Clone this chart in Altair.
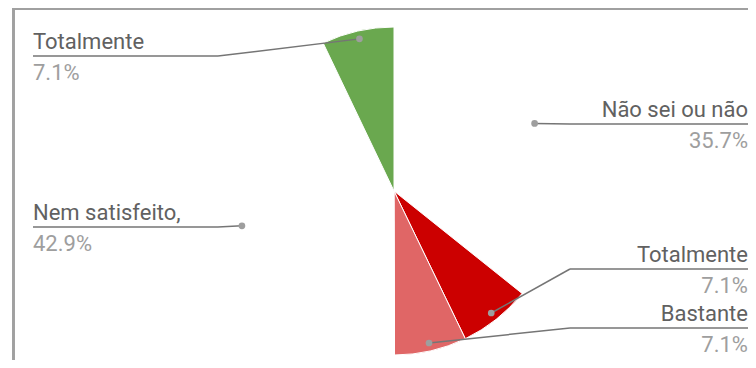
import altair as alt
import pandas as pd

# ---- data ----
keys = ["nao_sei", "tot_insat", "bastante", "nem", "tot_sat"]
labels = ["Não sei ou não", "Totalmente", "Bastante", "Nem satisfeito,", "Totalmente"]
values = [35.7, 7.1, 7.1, 42.9, 7.1]
slice_order = [1, 2, 3, 4, 5]
colors = ["#ffffff", "#cc0000", "#e06666", "#ffffff", "#6aa84f"]

# ---- layout (annotation placement, pixels in chart space) ----
label_line_y = [116, 261, 320, 219, 48]
CX, CY, R = 386, 183, 164
DOT_R, ELBOW = 156, 176
W, H = 740, 352
LEFT_X, RIGHT_X = 25, W
FONT = "Roboto"
FS = 22

df = pd.DataFrame({
    "key": keys,
    "label": labels,
    "value": values,
    "order": slice_order,
    "line_y": label_line_y,
})

base = (
    alt.Chart(df)
    .transform_window(cum="sum(value)", frame=[None, 0], sort=[{"field": "order"}])
    .transform_joinaggregate(total="sum(value)")
    .transform_calculate(
        mid="(datum.cum - datum.value / 2) / datum.total * 2 * PI",
    )
    .transform_calculate(
        side="sin(datum.mid) >= 0 ? 'right' : 'left'",
        dot_x=f"{CX} + {DOT_R} * sin(datum.mid)",
        dot_y=f"{CY} - {DOT_R} * cos(datum.mid)",
        pct=alt.expr.format(alt.datum.value, ".1f") + "%",
    )
    .transform_calculate(
        elbow_x=f"datum.side == 'right' ? {CX + ELBOW} : {CX - ELBOW}",
        end_x=f"datum.side == 'right' ? {RIGHT_X} : {LEFT_X}",
    )
)

pie = alt.Chart(df).mark_arc(radius=R, stroke="white", strokeWidth=1).encode(
    theta=alt.Theta("value:Q", stack=True),
    color=alt.Color("key:N", scale=alt.Scale(domain=keys, range=colors), legend=None),
    order=alt.Order("order:Q"),
    x=alt.value(CX),
    y=alt.value(CY),
)

noscale = dict(scale=None)

seg1 = base.mark_rule(color="#757575", strokeWidth=1.5).encode(
    x=alt.X("dot_x:Q", **noscale), y=alt.Y("dot_y:Q", **noscale),
    x2="elbow_x:Q", y2="line_y:Q",
)
seg2 = base.mark_rule(color="#757575", strokeWidth=1.5).encode(
    x=alt.X("elbow_x:Q", **noscale), y=alt.Y("line_y:Q", **noscale),
    x2="end_x:Q", y2="line_y:Q",
)
dots = base.mark_circle(color="#9e9e9e", opacity=1, size=45).encode(
    x=alt.X("dot_x:Q", **noscale), y=alt.Y("dot_y:Q", **noscale),
)

def text_layer(side, align, field, dy, color):
    return (
        base.transform_filter(f"datum.side == '{side}'")
        .transform_calculate(ty=f"datum.line_y + ({dy})")
        .mark_text(align=align, baseline="alphabetic", font=FONT, fontSize=FS, color=color)
        .encode(
            x=alt.X("end_x:Q", **noscale),
            y=alt.Y("ty:Q", **noscale),
            text=f"{field}:N",
        )
    )

texts = [
    text_layer("left", "left", "label", -7, "#616161"),
    text_layer("left", "left", "pct", 24, "#9e9e9e"),
    text_layer("right", "right", "label", -7, "#616161"),
    text_layer("right", "right", "pct", 24, "#9e9e9e"),
]

# chart frame (only its top and left edges fall inside the visible area)
frame_top = alt.Chart(df).mark_rule(color="#a0a0a0", strokeWidth=2).encode(
    x=alt.value(4.5), x2=alt.value(W), y=alt.value(1)
)
frame_left = alt.Chart(df).mark_rule(color="#a0a0a0", strokeWidth=2).encode(
    x=alt.value(5.5), y=alt.value(H + 10), y2=alt.value(0)
)

chart = (
    alt.layer(pie, seg1, seg2, dots, *texts, frame_top, frame_left)
    .properties(
        width=W,
        height=H,
        padding=0,
        autosize=alt.AutoSizeParams(type="none"),
        background="white",
    )
    .configure_view(stroke=None)
)

chart.save("out.html", embed_options={"renderer": "svg", "actions": False})
